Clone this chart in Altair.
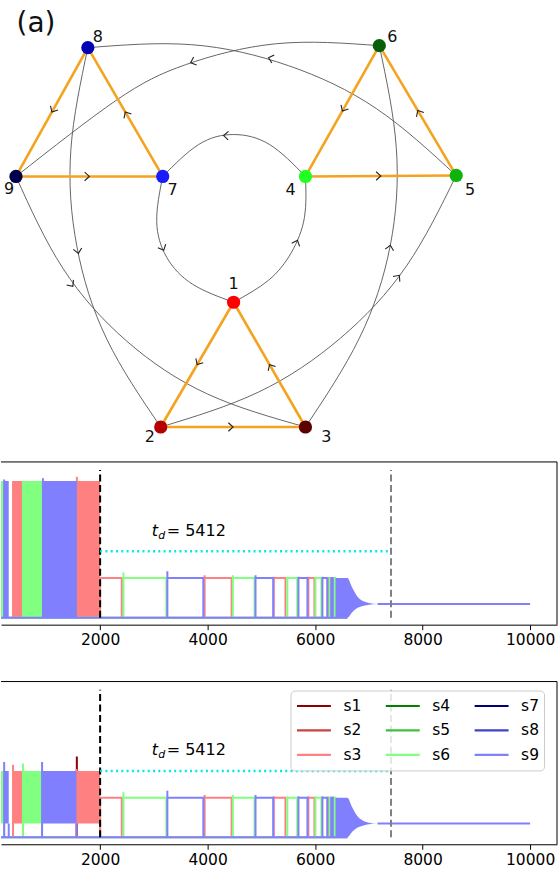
import math
import altair as alt
import pandas as pd

# ---------------- data: network panel (a) ----------------
node_id = ["1", "2", "3", "4", "5", "6", "7", "8", "9"]
node_x = [233, 160, 305, 305, 456, 379, 162, 87, 15]
node_y = [302, 427, 427, 176, 175, 45, 176, 47, 176]
node_color = ["#ff0000", "#b40000", "#5c0000", "#22ff22", "#0db40d", "#065f06",
              "#1a1aff", "#0000b4", "#00004c"]
label_x = [233, 149, 326, 290, 470, 392, 172, 97, 8]
label_y = [284, 437, 437, 190, 190, 36, 190, 36, 189]

# straight (orange) directed edges
tri_src = ["1", "2", "3", "4", "5", "6", "9", "7", "8"]
tri_dst = ["2", "3", "1", "5", "6", "4", "7", "8", "9"]

# curved (grey) directed edges: three points
arc_src = ["1", "4", "7", "5", "6", "8", "9", "2", "3"]
arc_dst = ["4", "7", "1", "8", "9", "2", "3", "5", "6"]
arc_q1_x = [268, 269, 156, 376, 276, 70, 62, 258, 359]
arc_q1_y = [280, 144, 221, 108, 43, 149, 268, 392, 338]
arc_q2_x = [291, 233, 166, 288, 185, 76, 126, 340, 390]
arc_q2_y = [252, 134, 257, 65, 64, 246, 341, 338, 245]
arc_q3_x = [304, 198, 192, 191, 115, 106, 207, 406, 396]
arc_q3_y = [217, 144, 284, 44, 100, 339, 394, 266, 147]
arc_arrow_x = [297, 223, 163, 268, 190, 77.5, 72, 399, 390]
arc_arrow_y = [240, 135, 250, 57, 62, 253, 286, 275, 245]
arc_arrow_dir = [292, 182, 66, 196, 160, 80, 53, 307, 281]

# ---------------- data: time series panels ----------------
series_names = ["s1", "s2", "s3", "s4", "s5", "s6", "s7", "s8", "s9"]
series_colors = ["#8b0000", "#cc4040", "#ff8080", "#007f00", "#40c040", "#80ff80",
                 "#00007f", "#4040cc", "#8080ff"]

# dense oscillation blocks before the switch (t < 2000)
p1_blk_series = ["s6", "s9", "s3", "s6", "s9", "s3"]
p1_blk_t0 = [0, 215, 380, 564, 936, 1567]
p1_blk_t1 = [215, 300, 564, 936, 1567, 2000]
p1_blk_lo = [0.0, 0.0, 0.0, 0.0, 0.0, 0.0]
p1_blk_hi = [1.0, 1.0, 1.0, 1.0, 1.0, 1.0]
p1_blk_peak = [1.0, 1.01, 1.0, 1.0, 1.02, 1.03]

p2_blk_series = ["s6", "s9", "s3", "s6", "s9", "s3"]
p2_blk_t0 = [0, 215, 380, 564, 920, 1560]
p2_blk_t1 = [215, 300, 564, 920, 1560, 2000]
p2_blk_lo = [0.10, 0.10, 0.10, 0.10, 0.10, 0.10]
p2_blk_hi = [0.485, 0.485, 0.485, 0.485, 0.485, 0.485]
p2_blk_peak = [0.55, 0.55, 0.53, 0.54, 0.55, 0.50]

# isolated spikes of the darker members
p2_spk_series = ["s1"]
p2_spk_t = [1567]
p2_spk_top = [0.59]

# switching stage after t = 2000 (same in both panels)
sw_series = ["s3", "s6", "s9", "s3", "s6", "s9", "s3", "s6", "s9", "s3", "s6", "s9",
             "s3", "s6", "s9", "s3", "s6"]
sw_t0 = [2000, 2434, 3251, 3944, 4470, 4891, 5231, 5483, 5690, 5875, 6006, 6136,
         6229, 6265, 6300, 6330, 6355]
sw_t1 = [2403, 3233, 3920, 4446, 4873, 5220, 5448, 5667, 5857, 5987, 6117, 6229,
         6262, 6298, 6328, 6353, 6378]
sw_level = [0.29, 0.29, 0.29, 0.29, 0.29, 0.29, 0.29, 0.29, 0.29, 0.29, 0.29, 0.29,
            0.29, 0.29, 0.29, 0.29, 0.29]
sw_peak = [0.29, 0.33, 0.34, 0.31, 0.31, 0.31, 0.30, 0.30, 0.30, 0.30, 0.30, 0.30,
           0.29, 0.29, 0.29, 0.29, 0.29]

# fast decaying oscillation towards synchrony (envelope)
dec_t = [6380, 6600, 6690, 6785, 6900, 7000, 7160]
dec_hi = [0.29, 0.29, 0.22, 0.155, 0.12, 0.107, 0.10]
dec_lo = [0.0, 0.0, 0.04, 0.07, 0.087, 0.095, 0.10]
final_t = [7160, 10000]
final_y = [0.10, 0.10]
base_t = [0, 6600]

switch_t = 2000
td_value = 5412
threshold = 0.485
x_ticks = [2000, 4000, 6000, 8000, 10000]

# ---------------- layout constants ----------------
W, GH = 559, 445
PW, PH = 557, 163
T_LEFT, T_RIGHT = 156, 10500
Y_LO, Y_HI = -0.051, 1.139
FONT = "DejaVu Sans"
ORANGE = "#f5a31f"
EDGE = "#555555"
CHEVRON = "M-1,-0.9L0,0L-1,0.9"

# ================= network chart =================
pos = {n: (x, y) for n, x, y in zip(node_id, node_x, node_y)}
gx = alt.Scale(domain=[0, W], nice=False, zero=False)
gy = alt.Scale(domain=[0, GH], nice=False, zero=False, reverse=True)


def GX(f="x"):
    return alt.X(f"{f}:Q", scale=gx, axis=None)


def GY(f="y"):
    return alt.Y(f"{f}:Q", scale=gy, axis=None)


nodes_df = pd.DataFrame({"id": node_id, "x": node_x, "y": node_y, "c": node_color,
                         "lx": label_x, "ly": label_y})
tri_df = pd.DataFrame({
    "x": [pos[s][0] for s in tri_src], "y": [pos[s][1] for s in tri_src],
    "x2": [pos[d][0] for d in tri_dst], "y2": [pos[d][1] for d in tri_dst]})
tri_arrow_df = pd.DataFrame({
    "x": [(pos[s][0] + pos[d][0]) / 2 for s, d in zip(tri_src, tri_dst)],
    "y": [(pos[s][1] + pos[d][1]) / 2 for s, d in zip(tri_src, tri_dst)],
    "a": [math.degrees(math.atan2(pos[d][1] - pos[s][1], pos[d][0] - pos[s][0])) % 360
          for s, d in zip(tri_src, tri_dst)]})
arc_rows = []
for i, s in enumerate(arc_src):
    d = arc_dst[i]
    pts = [pos[s], (arc_q1_x[i], arc_q1_y[i]), (arc_q2_x[i], arc_q2_y[i]),
           (arc_q3_x[i], arc_q3_y[i]), pos[d]]
    for k, (px, py) in enumerate(pts):
        arc_rows.append({"e": i, "k": k, "x": px, "y": py})
arc_df = pd.DataFrame(arc_rows)
arc_arrow_df = pd.DataFrame({"x": arc_arrow_x, "y": arc_arrow_y, "a": arc_arrow_dir})
title_df = pd.DataFrame({"x": [35], "y": [23], "txt": ["(a)"]})

curves = alt.Chart(arc_df).mark_line(interpolate="natural", color=EDGE, strokeWidth=0.9).encode(
    x=GX(), y=GY(), detail="e:N", order="k:Q")
tris = alt.Chart(tri_df).mark_rule(color=ORANGE, strokeWidth=2.6).encode(
    x=GX(), y=GY(), x2="x2:Q", y2="y2:Q")
arrows1 = alt.Chart(tri_arrow_df).mark_point(shape=CHEVRON, filled=False, size=90,
                                             color="#222222", strokeWidth=1.1, opacity=1).encode(
    x=GX(), y=GY(), angle=alt.Angle("a:Q", scale=None))
arrows2 = alt.Chart(arc_arrow_df).mark_point(shape=CHEVRON, filled=False, size=90,
                                             color="#222222", strokeWidth=1.1, opacity=1).encode(
    x=GX(), y=GY(), angle=alt.Angle("a:Q", scale=None))
dots = alt.Chart(nodes_df).mark_circle(size=175, opacity=1).encode(
    x=GX(), y=GY(), color=alt.Color("c:N", scale=None))
labels = alt.Chart(nodes_df).mark_text(font=FONT, fontSize=16, color="#111111").encode(
    x=GX("lx"), y=GY("ly"), text="id:N")
title = alt.Chart(title_df).mark_text(font=FONT, fontSize=28, color="#111111").encode(
    x=GX(), y=GY(), text="txt:N")

graph = alt.layer(curves, tris, arrows1, arrows2, dots, labels, title).properties(
    width=W, height=GH)

# ================= time series panels =================
xscale = alt.Scale(domain=[T_LEFT, T_RIGHT], nice=False, zero=False)
yscale = alt.Scale(domain=[Y_LO, Y_HI], nice=False, zero=False)
xaxis = alt.Axis(values=x_ticks, format="d", title=None, grid=False, tickSize=5,
                 tickColor="black", domainColor="black", domainWidth=1, labelColor="black",
                 labelFont=FONT, labelFontSize=15.5, labelPadding=3, labelFlush=False)
cscale = alt.Scale(domain=series_names, range=series_colors)
col = dict(zip(series_names, series_colors))


def X(f="t"):
    return alt.X(f"{f}:Q", scale=xscale, axis=xaxis)


def Y(f="y"):
    return alt.Y(f"{f}:Q", scale=yscale, axis=None)


def make_panel(blk, spk, legend):
    b_series, b_t0, b_t1, b_lo, b_hi, b_peak = blk
    s_series, s_t, s_top = spk
    leg = None
    if legend:
        leg = alt.Legend(title=None, orient="none", legendX=290, legendY=9, columns=3,
                         symbolType="stroke", symbolSize=34 * 34, symbolStrokeWidth=2.2,
                         labelFont=FONT, labelFontSize=15.5, labelColor="black",
                         labelOffset=11, columnPadding=23, rowPadding=3.5, clipHeight=21,
                         padding=5, strokeColor="#cccccc", fillColor="rgba(255,255,255,0.8)",
                         cornerRadius=4, symbolOpacity=1)
    layers = []
    for s in series_names:
        rb = [dict(t=a, t2=b, y=lo, y2=hi) for ss, a, b, lo, hi in
              zip(b_series, b_t0, b_t1, b_lo, b_hi) if ss == s]
        if rb:
            layers.append(alt.Chart(pd.DataFrame(rb)).mark_rect(color=col[s], clip=True).encode(
                x=X(), x2="t2:Q", y=Y(), y2="y2:Q"))
        rr = []
        for ss, a, b, lo, pk in zip(b_series, b_t0, b_t1, b_lo, b_peak):
            if ss == s:
                rr.append(dict(t=a, y=0.0, y2=pk))
                rr.append(dict(t=b, y=0.0, y2=lo))
        for ss, t, top in zip(s_series, s_t, s_top):
            if ss == s:
                rr.append(dict(t=t, y=0.0, y2=top))
        if rr:
            layers.append(alt.Chart(pd.DataFrame(rr)).mark_rule(
                color=col[s], strokeWidth=2, clip=True).encode(x=X(), y=Y(), y2="y2:Q"))
        rows = []
        if s in sw_series:
            for k, t in enumerate(base_t):
                rows.append(dict(series=s, seg="base", k=k, t=t, y=0.0))
        for i, (ss, a, b, lev, pk) in enumerate(zip(sw_series, sw_t0, sw_t1, sw_level, sw_peak)):
            if ss != s:
                continue
            for k, (t, y) in enumerate([(a, 0.0), (a, pk), (a, lev), (b, lev), (b, 0.0)]):
                rows.append(dict(series=s, seg=f"sw{i}", k=k, t=t, y=y))
        if s == "s9":
            layers.append(alt.Chart(pd.DataFrame({"t": dec_t, "y": dec_hi, "y2": dec_lo}))
                          .mark_area(color=col[s], clip=True, interpolate="monotone")
                          .encode(x=X(), y=Y(), y2="y2:Q"))
            for k, (t, y) in enumerate(zip(final_t, final_y)):
                rows.append(dict(series=s, seg="final", k=k, t=t, y=y))
        if rows:
            layers.append(alt.Chart(pd.DataFrame(rows)).mark_line(
                strokeWidth=2, clip=True, strokeJoin="miter").encode(
                x=X(), y=Y(), detail="seg:N", order="k:Q",
                color=alt.Color("series:N", scale=cscale, legend=leg)))
    t_sync = switch_t + td_value
    layers.append(alt.Chart(pd.DataFrame({"t": [switch_t], "y": [0.0], "y2": [1.08]})).mark_rule(
        color="black", strokeWidth=2, strokeDash=[7, 3.5]).encode(x=X(), y=Y(), y2="y2:Q"))
    layers.append(alt.Chart(pd.DataFrame({"t": [t_sync], "y": [0.0], "y2": [1.08]})).mark_rule(
        color="#808080", strokeWidth=2, strokeDash=[7, 3.5]).encode(x=X(), y=Y(), y2="y2:Q"))
    layers.append(alt.Chart(pd.DataFrame({"t": [switch_t], "t2": [t_sync], "y": [threshold]}))
                  .mark_rule(color="#00e8f0", strokeWidth=2.5, strokeDash=[2, 3.3])
                  .encode(x=X(), x2="t2:Q", y=Y()))
    layers.append(alt.Chart(pd.DataFrame({"t": [2960], "y": [0.60], "txt": ["t"]})).mark_text(
        font=FONT, fontStyle="italic", fontSize=16, align="left", baseline="alphabetic",
        color="black").encode(x=X(), y=Y(), text="txt:N"))
    layers.append(alt.Chart(pd.DataFrame({"t": [3081], "y": [0.578], "txt": ["d"]})).mark_text(
        font=FONT, fontStyle="italic", fontSize=11, align="left", baseline="alphabetic",
        color="black").encode(x=X(), y=Y(), text="txt:N"))
    layers.append(alt.Chart(pd.DataFrame({"t": [3239], "y": [0.60], "txt": [f"= {td_value}"]}))
                  .mark_text(font=FONT, fontSize=16, align="left", baseline="alphabetic",
                             color="black").encode(x=X(), y=Y(), text="txt:N"))
    layers.append(alt.Chart(pd.DataFrame({"y": [Y_HI]})).mark_rule(color="black", strokeWidth=1)
                  .encode(y=Y()))
    layers.append(alt.Chart(pd.DataFrame({"t": [T_RIGHT]})).mark_rule(color="black", strokeWidth=1)
                  .encode(x=X()))
    return alt.layer(*layers).properties(width=PW, height=PH)


p1 = make_panel((p1_blk_series, p1_blk_t0, p1_blk_t1, p1_blk_lo, p1_blk_hi, p1_blk_peak),
                ([], [], []), legend=False)
p2 = make_panel((p2_blk_series, p2_blk_t0, p2_blk_t1, p2_blk_lo, p2_blk_hi, p2_blk_peak),
                (p2_spk_series, p2_spk_t, p2_spk_top), legend=True)

inner = alt.vconcat(p1, p2, spacing=57, bounds="flush").resolve_scale(color="independent")
chart = alt.vconcat(graph, inner, spacing=17, bounds="flush").resolve_scale(
    color="independent").configure(background="white", padding=0).configure_view(
    stroke=None, fill="white")

chart.save("out.html", embed_options={"renderer": "svg", "actions": False})
